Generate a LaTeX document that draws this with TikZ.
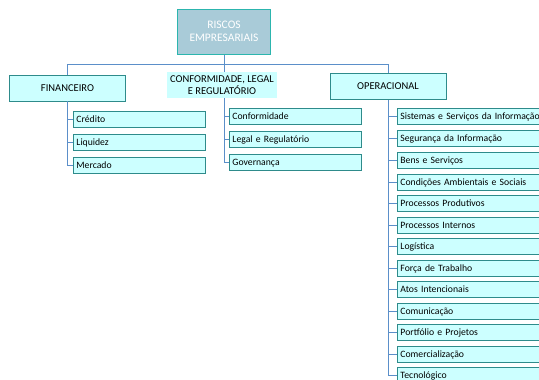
\documentclass[tikz,border=0pt]{standalone}
\usepackage{fontspec}
\setmainfont{Carlito}
\usetikzlibrary{positioning}

\definecolor{boxfill}{HTML}{CCFFFF}
\definecolor{boxline}{HTML}{2E8B8B}
\definecolor{rootfill}{HTML}{A9CBD8}
\definecolor{rootline}{HTML}{2CB5AE}
\definecolor{treeline}{HTML}{5B8FC9}

\begin{document}
\begin{tikzpicture}[x=1pt,y=-1pt,
  root node/.style={draw=rootline,line width=1pt,fill=rootfill,text=white,
    minimum width=93pt,minimum height=45pt,align=center,font=\fontsize{11.5}{13}\selectfont},
  head node/.style={draw=boxline,line width=0.9pt,fill=boxfill,
    minimum width=116pt,minimum height=26pt,font=\fontsize{10.5}{12}\selectfont},
  item node/.style={draw=boxline,line width=0.9pt,fill=boxfill,anchor=west,
    minimum height=16pt,inner sep=3pt,text depth=0pt,font=\fontsize{9.7}{11}\selectfont},
  fin item/.style={item node,text width=126pt},
  conf item/.style={item node,text width=126pt},
  op item/.style={item node,text width=150pt},
  tree/.style={draw=treeline,line width=0.9pt},
  twig/.style={tree,to path={|- (\tikztotarget)}}]

  \useasboundingbox (0,0) rectangle (539,380);

  \node[root node] (root) at (224,31.5) {RISCOS\\EMPRESARIAIS};
  \coordinate (bus) at (224,64);

  \node[head node] (fin) at (67.5,88) {FINANCEIRO};
  \node[fill=boxfill,minimum width=110pt,minimum height=26pt,inner sep=1pt,
    align=center,font=\fontsize{10.5}{11.5}\selectfont] (conf) at (222,85) {CONFORMIDADE, LEGAL\\E REGULATÓRIO};
  \node[head node] (op) at (388,86.5) {OPERACIONAL};

  % financeiro
  \node[fin item] (cred) at (73,119) {Crédito};
  \node[fin item] (liq) at (73,142) {Liquidez};
  \node[fin item] (merc) at (73,165.5) {Mercado};

  % conformidade
  \node[conf item] (conform) at (229,116) {Conformidade};
  \node[conf item] (legal) at (229,139) {Legal e Regulatório};
  \node[conf item] (gov) at (229,162) {Governança};

  % operacional
  \node[op item] (sist) at (397,116) {Sistemas e Serviços da Informação};
  \node[op item] (seg) at (397,138.5) {Segurança da Informação};
  \node[op item] (bens) at (397,160.5) {Bens e Serviços};
  \node[op item] (cond) at (397,182) {Condições Ambientais e Sociais};
  \node[op item] (prod) at (397,203.5) {Processos Produtivos};
  \node[op item] (intern) at (397,225) {Processos Internos};
  \node[op item] (logi) at (397,246.5) {Logística};
  \node[op item] (forca) at (397,268) {Força de Trabalho};
  \node[op item] (atos) at (397,289.5) {Atos Intencionais};
  \node[op item] (comu) at (397,311) {Comunicação};
  \node[op item] (port) at (397,332.5) {Portfólio e Projetos};
  \node[op item] (come) at (397,354) {Comercialização};
  \node[op item] (tecn) at (397,375) {Tecnológico};

 \path[tree]
 (root.south) edge (bus)
 (bus) edge ([xshift=2pt]conf.north)
 (bus) [to path={-| (\tikztotarget)}] edge (fin.north)
 (bus) [to path={-| (\tikztotarget)}] edge (op.north);

 \path
 ([xshift=2pt]conf.south) coordinate (confstem)
 (fin.south) [twig] edge (cred.west)
 (fin.south) [twig] edge (liq.west)
 (fin.south) [twig] edge (merc.west)
 (confstem) [twig] edge (conform.west)
 (confstem) [twig] edge (legal.west)
 (confstem) [twig] edge (gov.west)
 (op.south) [twig] edge (sist.west)
 (op.south) [twig] edge (seg.west)
 (op.south) [twig] edge (bens.west)
 (op.south) [twig] edge (cond.west)
 (op.south) [twig] edge (prod.west)
 (op.south) [twig] edge (intern.west)
 (op.south) [twig] edge (logi.west)
 (op.south) [twig] edge (forca.west)
 (op.south) [twig] edge (atos.west)
 (op.south) [twig] edge (comu.west)
 (op.south) [twig] edge (port.west)
 (op.south) [twig] edge (come.west)
 (op.south) [twig] edge (tecn.west);

\end{tikzpicture}
\end{document}
